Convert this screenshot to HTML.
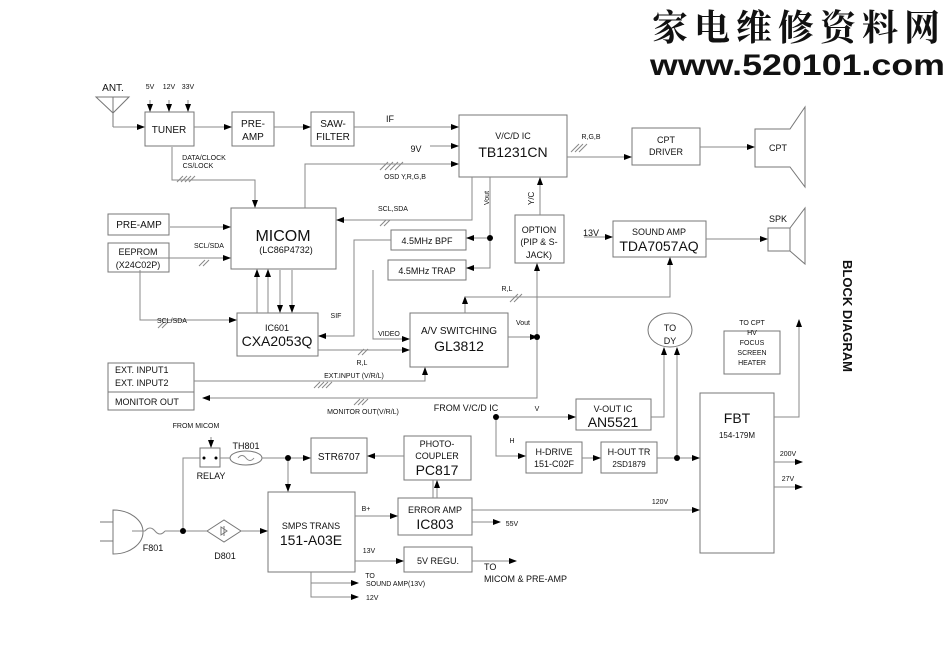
<!DOCTYPE html>
<html><head><meta charset="utf-8"><style>
html,body{margin:0;padding:0;background:#fff;}
svg{display:block;}
text{font-family:"Liberation Sans",Arial,sans-serif;fill:#111;}
.b{fill:none;stroke:#777;stroke-width:1;}
.l{fill:none;stroke:#888;stroke-width:1;}
.s{font-size:7px;}
.m{font-size:9px;}
.n{font-size:10px;}
.L{font-size:14px;}
</style></head><body>
<svg width="950" height="672" viewBox="0 0 950 672" xmlns="http://www.w3.org/2000/svg">
<defs><marker id="a" markerWidth="8" markerHeight="6" refX="7" refY="3" orient="auto" markerUnits="userSpaceOnUse"><path d="M0,0 L8,3 L0,6 z" fill="#000"/></marker></defs>
<rect width="950" height="672" fill="#fff"/>
<text x="652" y="40" style="font-family:'Noto Serif CJK SC','WenQuanYi Zen Hei',serif;font-size:36px;letter-spacing:6px;font-weight:bold" fill="#000">家电维修资料网</text>
<text x="650" y="75" style="font-size:30px;font-weight:bold" textLength="295" lengthAdjust="spacingAndGlyphs">www.520101.com</text>

<g class="b">
<rect x="145" y="112" width="49" height="34"/>
<rect x="232" y="112" width="42" height="34"/>
<rect x="311" y="112" width="43" height="34"/>
<rect x="459" y="115" width="108" height="62"/>
<rect x="632" y="128" width="68" height="37"/>
<path d="M755,129 H790 L805,107 V187 L790,167 H755 Z"/>
<rect x="231" y="208" width="105" height="61"/>
<rect x="108" y="214" width="61" height="21"/>
<rect x="108" y="243" width="61" height="29"/>
<rect x="391" y="230" width="75" height="20"/>
<rect x="388" y="260" width="78" height="20"/>
<rect x="515" y="215" width="49" height="48"/>
<rect x="613" y="221" width="93" height="36"/>
<path d="M768,228 H790 L805,208 V264 L790,251 H768 Z M790,228 V251"/>
<rect x="237" y="313" width="81" height="43"/>
<rect x="410" y="313" width="98" height="54"/>
<rect x="108" y="363" width="86" height="47"/>
<line x1="108" y1="392" x2="194" y2="392"/>
<ellipse cx="670" cy="330" rx="22" ry="17"/>
<rect x="724" y="331" width="56" height="43"/>
<rect x="700" y="393" width="74" height="160"/>
<rect x="576" y="399" width="75" height="31"/>
<rect x="526" y="442" width="56" height="31"/>
<rect x="601" y="442" width="56" height="31"/>
<rect x="311" y="438" width="56" height="35"/>
<rect x="404" y="436" width="67" height="44"/>
<rect x="268" y="492" width="87" height="80"/>
<rect x="398" y="498" width="74" height="37"/>
<rect x="404" y="547" width="68" height="25"/>
<rect x="200" y="448" width="20" height="19"/>
<path d="M96,97 H129 L113,113 Z M113,97 V127"/>
<path d="M113,510 A30,22 0 0 1 113,554 Z M100,522 H113 M100,541 H113"/>
<ellipse cx="246" cy="458" rx="16" ry="7"/>
<path d="M207,531 L224,520 L241,531 L224,542 Z M224,526 V536 M221,527 L227,531 L221,535 Z"/>
</g>

<g class="l" marker-end="url(#a)">
<path d="M113,127 H144"/>
<path d="M150,100 V111"/><path d="M169,100 V111"/><path d="M188,100 V111"/>
<path d="M194,127 H231"/>
<path d="M274,127 H310"/>
<path d="M354,127 H458"/>
<path d="M430,146 H458"/>
<path d="M305,208 V164 H458"/>
<path d="M567,157 H631"/>
<path d="M700,147 H754"/>
<path d="M170,227 H230"/>
<path d="M169,258 H230"/>
<path d="M472,177 V220 H337"/>
<path d="M172,147 V180 H255 V207"/>
<path d="M490,238 H467"/>
<path d="M490,177 V268 H467"/>
<path d="M540,215 V178"/>
<path d="M584,237 H612"/>
<path d="M706,239 H767"/>
<path d="M257,313 V270"/><path d="M268,313 V270"/>
<path d="M280,270 V312"/><path d="M292,270 V312"/>
<path d="M391,240 H354 V336 H319"/>
<path d="M373,270 V339 H409"/>
<path d="M318,350 H409"/>
<path d="M465,313 V297"/>
<path d="M465,297 H670 V258"/>
<path d="M508,337 H537"/>
<path d="M537,337 V264"/>
<path d="M194,381 H425 V368"/>
<path d="M537,337 V398 H203"/>
<path d="M496,417 H575"/>
<path d="M496,417 V456 H525"/>
<path d="M582,458 H600"/>
<path d="M657,458 H699"/>
<path d="M651,417 H664 V348"/>
<path d="M677,458 V348"/>
<path d="M774,417 H799 V320"/>
<path d="M774,462 H802"/>
<path d="M774,487 H802"/>
<path d="M472,510 H699"/>
<path d="M472,522 H500"/>
<path d="M355,516 H397"/>
<path d="M355,561 H403"/>
<path d="M472,561 H516"/>
<path d="M311,572 V583 H358"/>
<path d="M311,583 V597 H358"/>
<path d="M211,437 V447"/>
<path d="M437,498 V481"/>
<path d="M404,456 H368"/>
<path d="M288,458 H310"/>
<path d="M288,458 V491"/>
<path d="M241,531 H267"/>
<path d="M140,286 V320 H236"/>
</g>
<g class="l">
<path d="M140,258 H169 M140,270 V286"/>
<path d="M220,458 H230 M262,458 H288"/>
<path d="M200,458 H183 V531 H207"/>
<path d="M132,531 H145 M165,531 H183"/>
<path d="M145,531 q5,-6 10,0 q5,6 10,0"/>
<path d="M238,458 q4,-5 8,0 q4,5 8,0"/>
<path d="M433,480 V498"/>
</g>
<g fill="#000">
<circle cx="490" cy="238" r="3"/><circle cx="537" cy="337" r="3"/><circle cx="496" cy="417" r="3"/>
<circle cx="677" cy="458" r="3"/><circle cx="288" cy="458" r="3"/><circle cx="183" cy="531" r="3"/>
<circle cx="204" cy="458" r="1.5"/><circle cx="216" cy="458" r="1.5"/>
</g>
<g stroke="#888" stroke-width="1">
<path d="M177,182 l6,-6 M181,182 l6,-6 M185,182 l6,-6 M189,182 l6,-6"/>
<path d="M380,170 l8,-8 M385,170 l8,-8 M390,170 l8,-8 M395,170 l8,-8"/>
<path d="M380,226 l6,-6 M384,226 l6,-6"/>
<path d="M199,266 l6,-6 M203,266 l6,-6"/>
<path d="M158,328 l6,-6 M162,328 l6,-6"/>
<path d="M358,355 l6,-6 M362,355 l6,-6"/>
<path d="M314,388 l6,-6 M318,388 l6,-6 M322,388 l6,-6 M326,388 l6,-6"/>
<path d="M354,405 l6,-6 M358,405 l6,-6 M362,405 l6,-6"/>
<path d="M510,302 l8,-8 M514,302 l8,-8"/>
<path d="M571,152 l8,-8 M575,152 l8,-8 M579,152 l8,-8"/>
</g>

<g text-anchor="middle">
<text x="113" y="91" class="n">ANT.</text>
<text x="150" y="89" class="s">5V</text><text x="169" y="89" class="s">12V</text><text x="188" y="89" class="s">33V</text>
<text x="169" y="133" class="n">TUNER</text>
<text x="253" y="127" class="n">PRE-</text><text x="253" y="140" class="n">AMP</text>
<text x="333" y="127" class="n">SAW-</text><text x="333" y="140" class="n">FILTER</text>
<text x="390" y="122" class="m">IF</text>
<text x="416" y="152" class="m">9V</text>
<text x="513" y="139" class="m">V/C/D IC</text>
<text x="513" y="157" class="L">TB1231CN</text>
<text x="666" y="143" class="m">CPT</text><text x="666" y="155" class="m">DRIVER</text>
<text x="778" y="151" class="m">CPT</text>
<text x="778" y="222" class="m">SPK</text>
<text x="591" y="139" class="s">R,G,B</text>
<text x="204" y="160" class="s">DATA/CLOCK</text>
<text x="198" y="168" class="s">CS/LOCK</text>
<text x="405" y="179" class="s">OSD  Y,R,G,B</text>
<text x="393" y="211" class="s">SCL,SDA</text>
<text x="283" y="241" style="font-size:16px">MICOM</text>
<text x="286" y="253" class="m">(LC86P4732)</text>
<text x="139" y="228" class="n">PRE-AMP</text>
<text x="138" y="255" class="m">EEPROM</text><text x="138" y="268" class="m">(X24C02P)</text>
<text x="209" y="248" class="s">SCL/SDA</text>
<text x="427" y="244" class="m">4.5MHz  BPF</text>
<text x="427" y="274" class="m">4.5MHz  TRAP</text>
<text x="539" y="233" class="m">OPTION</text><text x="539" y="245" class="m">(PIP &amp; S-</text><text x="539" y="258" class="m">JACK)</text>
<text x="591" y="236" class="m">13V</text>
<text x="659" y="235" class="m">SOUND AMP</text>
<text x="659" y="251" class="L">TDA7057AQ</text>
<text x="507" y="291" class="s">R,L</text>
<text x="172" y="323" class="s">SCL/SDA</text>
<text x="336" y="318" class="s">SIF</text>
<text x="389" y="336" class="s">VIDEO</text>
<text x="523" y="325" class="s">Vout</text>
<text x="277" y="331" class="m">IC601</text>
<text x="277" y="346" class="L">CXA2053Q</text>
<text x="459" y="334" class="n">A/V SWITCHING</text>
<text x="459" y="351" class="L">GL3812</text>
<text x="362" y="365" class="s">R,L</text>
<text x="354" y="378" class="s">EXT.INPUT (V/R/L)</text>
<text x="363" y="414" class="s">MONITOR OUT(V/R/L)</text>
<text x="466" y="411" class="m">FROM V/C/D IC</text>
<text x="537" y="411" class="s">V</text>
<text x="512" y="443" class="s">H</text>
<text x="670" y="331" class="m">TO</text><text x="670" y="344" class="m">DY</text>
<text x="752" y="325" class="s">TO CPT</text><text x="752" y="335" class="s">HV</text><text x="752" y="345" class="s">FOCUS</text><text x="752" y="355" class="s">SCREEN</text><text x="752" y="365" class="s">HEATER</text>
<text x="737" y="423" class="L">FBT</text>
<text x="737" y="438" class="s" style="font-size:8px">154-179M</text>
<text x="613" y="412" class="m">V-OUT IC</text>
<text x="613" y="427" class="L">AN5521</text>
<text x="554" y="455" class="m">H-DRIVE</text><text x="554" y="467" class="m">151-C02F</text>
<text x="629" y="455" class="m">H-OUT  TR</text><text x="629" y="467" class="s" style="font-size:8px">2SD1879</text>
<text x="788" y="456" class="s">200V</text>
<text x="788" y="481" class="s">27V</text>
<text x="660" y="504" class="s">120V</text>
<text x="196" y="428" class="s">FROM MICOM</text>
<text x="211" y="479" class="m">RELAY</text>
<text x="246" y="449" class="m">TH801</text>
<text x="339" y="460" class="n">STR6707</text>
<text x="437" y="447" class="m">PHOTO-</text><text x="437" y="459" class="m">COUPLER</text><text x="437" y="475" class="L">PC817</text>
<text x="311" y="529" class="m">SMPS TRANS</text><text x="311" y="545" class="L">151-A03E</text>
<text x="366" y="511" class="s">B+</text>
<text x="435" y="513" class="m">ERROR AMP</text><text x="435" y="529" class="L">IC803</text>
<text x="512" y="526" class="s">55V</text>
<text x="369" y="553" class="s">13V</text>
<text x="438" y="564" class="m">5V REGU.</text>
<text x="153" y="551" class="m">F801</text>
<text x="225" y="559" class="m">D801</text>
<text x="370" y="578" class="s">TO</text>
</g>
<text x="115" y="373" class="m">EXT. INPUT1</text>
<text x="115" y="386" class="m">EXT. INPUT2</text>
<text x="115" y="405" class="m">MONITOR OUT</text>
<text x="366" y="586" class="s">SOUND AMP(13V)</text>
<text x="366" y="600" class="s">12V</text>
<text x="484" y="570" class="m">TO</text>
<text x="484" y="582" class="m">MICOM &amp; PRE-AMP</text>
<text x="489" y="205" class="s" transform="rotate(-90 489 205)">Vout</text>
<text x="534" y="205" class="s" transform="rotate(-90 534 205)" style="font-size:8px">Y/C</text>
<text x="843" y="260" transform="rotate(90 843 260)" style="font-size:13px;font-weight:bold">BLOCK DIAGRAM</text>
</svg>
</body></html>
